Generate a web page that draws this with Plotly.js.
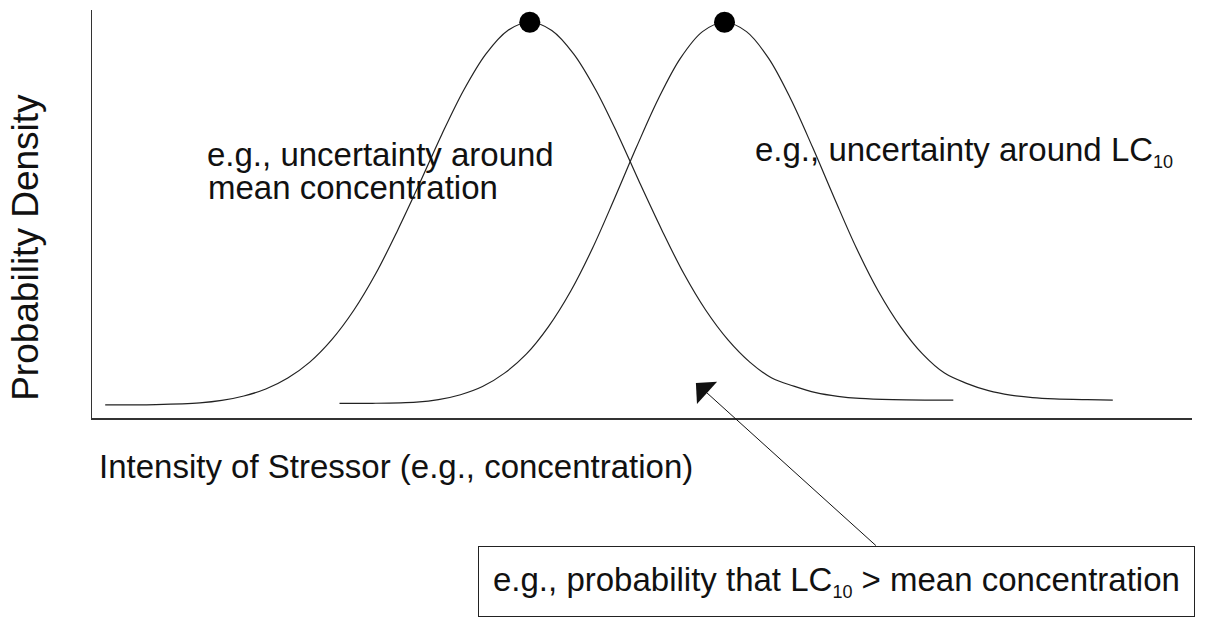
<!DOCTYPE html>
<html>
<head>
<meta charset="utf-8">
<script src="https://cdn.plot.ly/plotly-3.0.1.min.js"></script>
<style>
  html, body { margin: 0; padding: 0; background: #fff; }
  #chart { width: 1209px; height: 623px; }
</style>
</head>
<body>
<div id="chart"></div>
<script>
// curve: uncertainty around the mean concentration
const meanX = [1.2, 5.8, 9.8, 11.8, 13.8, 15.8, 17.8, 19.8, 21.8, 23.8, 25.8, 27.8, 29.8, 31.8, 33.8, 35.8, 37.8, 39.8,
               41.8, 43.8, 45.8, 47.8, 49.8, 51.8, 53.8, 55.8, 57.8, 59.8, 61.8, 63.8, 65.8, 67.8, 69.8, 72.8, 75.8, 78.3];
const meanY = [0.032, 0.033, 0.037, 0.043, 0.054, 0.071, 0.098, 0.137, 0.192, 0.264, 0.354, 0.461, 0.576, 0.695, 0.804, 0.892, 0.950, 0.970,
               0.950, 0.892, 0.804, 0.695, 0.576, 0.461, 0.354, 0.264, 0.192, 0.137, 0.098, 0.078, 0.062, 0.053, 0.048, 0.045, 0.044, 0.044];

// curve: uncertainty around LC10
const lcX = [22.5, 25.5, 29.5, 31.5, 33.5, 35.5, 37.5, 39.5, 41.5, 43.5, 45.5, 47.5, 49.5, 51.5, 53.5, 55.5, 57.5,
             59.5, 61.5, 63.5, 65.5, 67.5, 69.5, 71.5, 73.5, 75.5, 77.5, 79.5, 81.5, 83.5, 85.5, 87.5, 90.5, 92.8];
const lcY = [0.036, 0.036, 0.039, 0.045, 0.057, 0.077, 0.110, 0.157, 0.224, 0.310, 0.416, 0.538, 0.664, 0.783, 0.882, 0.947, 0.970,
             0.947, 0.882, 0.783, 0.664, 0.538, 0.416, 0.310, 0.224, 0.157, 0.110, 0.085, 0.067, 0.056, 0.050, 0.047, 0.045, 0.044];

// the two peaks marked with dots
const peakX = [39.8, 57.5];
const peakY = [0.970, 0.970];

// small subscript like the original figure
const SUB10 = '<sub><span style="font-size:18px">10</span></sub>';

const labels = {
    meanLine1: 'e.g., uncertainty around',
    meanLine2: 'mean concentration',
    lc: 'e.g., uncertainty around LC' + SUB10,
    box: 'e.g., probability that LC' + SUB10 + ' &gt; mean concentration',
    xTitle: 'Intensity of Stressor (e.g., concentration)',
    yTitle: 'Probability Density'
};

const FONT = 'Liberation Sans, Arial, Helvetica, sans-serif';
const INK = '#111';

const curveMean = {
    x: meanX, y: meanY,
    type: 'scatter', mode: 'lines',
    line: { color: '#222', width: 1.2, shape: 'spline', smoothing: 1 },
    hoverinfo: 'skip'
};
const curveLC = {
    x: lcX, y: lcY,
    type: 'scatter', mode: 'lines',
    line: { color: '#222', width: 1.2, shape: 'spline', smoothing: 1 },
    hoverinfo: 'skip'
};
const peaks = {
    x: peakX, y: peakY,
    type: 'scatter', mode: 'markers',
    marker: { color: '#000', size: 21 },
    cliponaxis: false,
    hoverinfo: 'skip'
};

const layout = {
    width: 1209,
    height: 623,
    margin: { l: 92, r: 17, t: 10, b: 205 },
    paper_bgcolor: '#fff',
    plot_bgcolor: '#fff',
    showlegend: false,
    font: { family: FONT, color: INK, size: 33 },
    xaxis: {
        range: [0, 100], autorange: false,
        showline: true, linecolor: '#333', linewidth: 2,
        showgrid: false, zeroline: false, showticklabels: false, ticks: ''
    },
    yaxis: {
        range: [0, 1], autorange: false,
        showline: true, linecolor: '#333', linewidth: 1,
        showgrid: false, zeroline: false, showticklabels: false, ticks: ''
    },
    annotations: [
        { x: 10.3, y: 0.647, xref: 'x', yref: 'y', xanchor: 'left', yanchor: 'middle',
          text: labels.meanLine1, showarrow: false, font: { size: 33 } },
        { x: 10.4, y: 0.566, xref: 'x', yref: 'y', xanchor: 'left', yanchor: 'middle',
          text: labels.meanLine2, showarrow: false, font: { size: 33 } },
        { x: 60.1, y: 0.652, xref: 'x', yref: 'y', xanchor: 'left', yanchor: 'middle',
          text: labels.lc, showarrow: false, font: { size: 33 } },
        { x: 0.0045, y: -0.12, xref: 'paper', yref: 'paper', xanchor: 'left', yanchor: 'middle',
          text: labels.xTitle, showarrow: false, font: { size: 33 } },
        { x: 0, xshift: -66, y: 0.417, xref: 'paper', yref: 'paper', xanchor: 'center', yanchor: 'middle',
          text: labels.yTitle, textangle: -90, showarrow: false, font: { size: 37 } },
        // arrow from the box up to the overlap of the two curves
        { x: 54.9, y: 0.086, xref: 'x', yref: 'y', ax: 71.4, ay: -0.316, axref: 'x', ayref: 'y',
          text: '', showarrow: true, arrowhead: 1, arrowsize: 5, arrowwidth: 1, arrowcolor: '#111' },
        { x: 67.68, y: -0.4007, xref: 'x', yref: 'paper', xanchor: 'center', yanchor: 'middle',
          text: labels.box, showarrow: false, font: { size: 33 },
          bordercolor: '#222', borderwidth: 1, borderpad: 14, bgcolor: '#fff' }
    ]
};

Plotly.newPlot('chart', [curveMean, curveLC, peaks], layout, { displayModeBar: false, staticPlot: true });
</script>
</body>
</html>
